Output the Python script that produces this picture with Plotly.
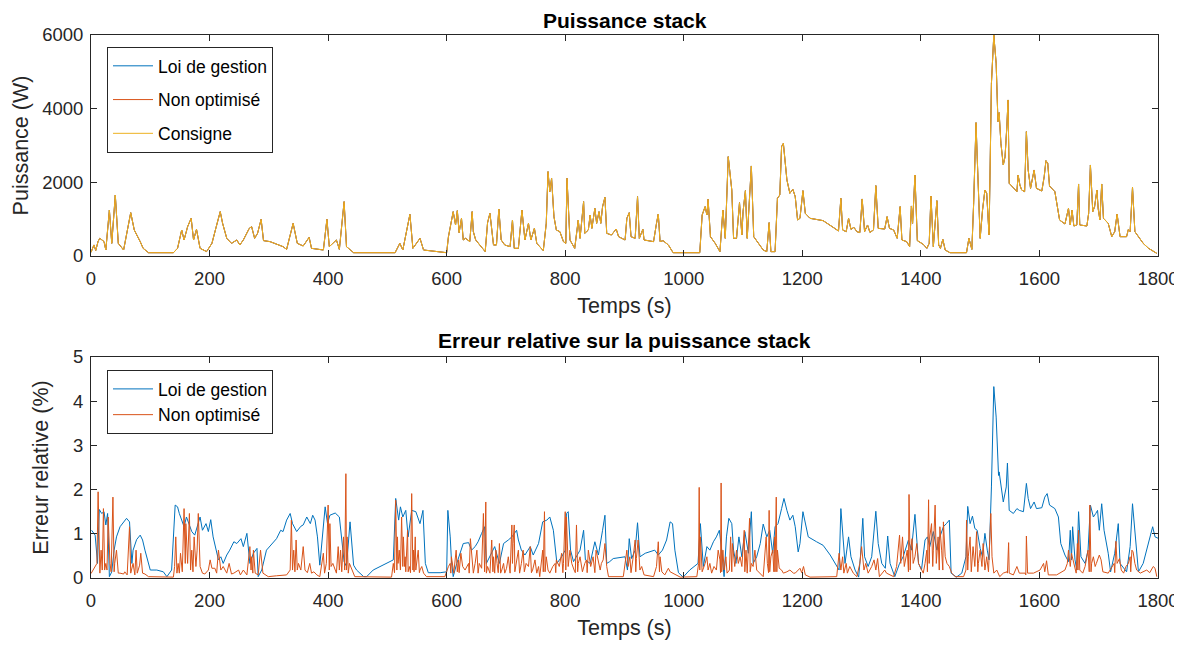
import plotly.graph_objects as go
from plotly.subplots import make_subplots

# --- Puissance stack (W) ---
t_power = [0, 5, 8, 12, 15, 22, 25, 31, 35, 41, 46, 55, 67, 73, 83, 88, 97, 139, 146, 153, 157, 163, 169, 173,
           178, 184, 195, 204, 211, 218, 222, 229, 237, 246, 251, 257, 267, 271, 276, 281, 287, 291, 302, 324,
           330, 341, 348, 358, 368, 372, 392, 398, 402, 414, 419, 427, 431, 443, 513, 521, 526, 538, 543, 555,
           561, 594, 600, 603, 611, 615, 618, 621, 625, 628, 632, 639, 643, 645, 649, 665, 669, 673, 679, 684,
           688, 692, 698, 707, 711, 714, 721, 727, 732, 738, 742, 748, 752, 763, 768, 771, 774, 777, 781, 785,
           791, 797, 801, 803, 808, 816, 822, 825, 831, 833, 839, 842, 845, 850, 853, 857, 860, 863, 867, 870,
           878, 886, 890, 901, 904, 908, 911, 918, 922, 925, 931, 933, 949, 954, 957, 960, 965, 974, 982, 1027,
           1031, 1036, 1039, 1041, 1045, 1053, 1061, 1066, 1070, 1075, 1081, 1084, 1089, 1094, 1098, 1100, 1104,
           1107, 1114, 1118, 1126, 1134, 1140, 1144, 1147, 1154, 1158, 1162, 1165, 1168, 1174, 1179, 1184, 1188,
           1192, 1196, 1201, 1205, 1213, 1235, 1252, 1261, 1265, 1268, 1274, 1278, 1282, 1287, 1292, 1297, 1301,
           1305, 1310, 1314, 1320, 1324, 1328, 1339, 1343, 1347, 1354, 1360, 1365, 1368, 1376, 1381, 1384, 1386,
           1390, 1394, 1404, 1410, 1414, 1417, 1421, 1427, 1430, 1433, 1437, 1441, 1449, 1477, 1481, 1486, 1489,
           1493, 1495, 1500, 1504, 1508, 1511, 1515, 1519, 1523, 1527, 1530, 1532, 1535, 1539, 1542, 1545, 1547,
           1549, 1556, 1562, 1564, 1567, 1570, 1575, 1578, 1581, 1585, 1591, 1595, 1604, 1608, 1611, 1614, 1617,
           1626, 1634, 1643, 1649, 1652, 1655, 1658, 1663, 1666, 1668, 1680, 1683, 1686, 1690, 1693, 1697, 1699,
           1702, 1705, 1708, 1716, 1722, 1727, 1731, 1736, 1747, 1750, 1753, 1757, 1761, 1775, 1784, 1798]
p_consigne = [100, 300, 150, 400, 480, 390, 163, 1249, 344, 1656, 344, 163, 1177, 706, 390, 208, 90, 90, 208, 706,
              435, 796, 1023, 435, 724, 208, 120, 344, 778, 1204, 887, 480, 344, 435, 299, 435, 751, 796, 480, 616,
              996, 417, 390, 254, 180, 887, 344, 272, 507, 208, 163, 996, 254, 435, 180, 1475, 254, 90, 90, 344,
              163, 1131, 208, 480, 163, 90, 90, 525, 1204, 842, 1231, 634, 1023, 435, 480, 390, 1204, 661, 435,
              118, 905, 1158, 299, 299, 1276, 435, 299, 254, 977, 208, 208, 1249, 435, 887, 435, 751, 344, 145,
              887, 2290, 1747, 2109, 1068, 706, 661, 390, 344, 2109, 435, 208, 977, 480, 1475, 616, 706, 1113, 751,
              1294, 887, 1204, 887, 1340, 1593, 616, 570, 733, 525, 435, 1023, 1177, 525, 480, 1611, 480, 724, 435,
              390, 887, 1140, 390, 417, 299, 90, 90, 1113, 1340, 1113, 1539, 525, 344, 118, 1249, 480, 2697, 1792,
              480, 480, 1448, 570, 1204, 1774, 480, 2444, 525, 344, 163, 118, 905, 118, 118, 1566, 1656, 2969, 3059,
              2064, 1702, 1810, 1611, 977, 1023, 1774, 1158, 1023, 960, 778, 679, 1566, 706, 661, 1023, 724, 778,
              661, 634, 1548, 661, 842, 643, 706, 1910, 751, 733, 1068, 751, 706, 480, 1340, 435, 390, 254, 1358,
              887, 2199, 417, 317, 208, 344, 1629, 254, 1502, 299, 208, 453, 163, 90, 90, 480, 180, 1430, 3620,
              2697, 480, 1249, 1792, 1702, 570, 4688, 6000, 5231, 3648, 3892, 3059, 2471, 2697, 3512, 4236, 1973,
              1837, 1747, 2199, 1928, 1792, 1747, 3376, 2335, 1837, 2335, 1837, 1765, 2154, 2589, 2516, 1901, 1747,
              977, 869, 1294, 842, 1249, 815, 842, 1955, 842, 815, 1158, 2471, 1204, 1340, 1792, 1294, 977, 1955,
              1023, 887, 525, 661, 1140, 525, 525, 724, 661, 1865, 661, 344, 208, 72]
# the three power curves track the setpoint and overlap in the reference
p_loi = p_consigne
p_non_opt = p_consigne

# --- Erreur relative (%) : loi de gestion ---
t_err_loi = [1, 7, 11, 14, 18, 22, 25, 28, 31, 35, 39, 43, 49, 55, 60, 65, 69, 71, 77, 83, 87, 91, 97, 100, 111,
             122, 128, 136, 142, 146, 149, 153, 157, 161, 165, 170, 175, 179, 184, 188, 194, 198, 202, 206, 211,
             215, 219, 223, 229, 234, 241, 246, 253, 257, 263, 268, 274, 280, 282, 288, 296, 305, 313, 320, 324,
             330, 336, 340, 347, 354, 358, 364, 370, 374, 378, 382, 386, 395, 399, 403, 412, 419, 423, 427, 431,
             437, 443, 448, 460, 465, 476, 493, 510, 514, 519, 522, 526, 531, 535, 541, 548, 555, 560, 564, 569,
             589, 600, 602, 606, 608, 611, 617, 622, 628, 637, 642, 648, 653, 659, 664, 667, 676, 681, 689, 696,
             704, 710, 718, 721, 726, 732, 741, 746, 755, 762, 769, 774, 780, 786, 794, 800, 802, 805, 809, 814,
             825, 831, 834, 842, 850, 856, 863, 867, 870, 875, 881, 892, 901, 905, 908, 912, 918, 922, 926, 935,
             943, 951, 957, 964, 971, 977, 981, 985, 991, 999, 1010, 1024, 1028, 1033, 1039, 1044, 1050, 1055,
             1060, 1064, 1068, 1072, 1076, 1081, 1084, 1088, 1093, 1098, 1103, 1109, 1114, 1117, 1123, 1129, 1134,
             1140, 1145, 1150, 1154, 1159, 1165, 1169, 1174, 1179, 1184, 1188, 1193, 1196, 1201, 1205, 1210, 1224,
             1235, 1247, 1258, 1262, 1265, 1268, 1272, 1278, 1282, 1289, 1295, 1298, 1302, 1305, 1311, 1317, 1321,
             1324, 1328, 1334, 1340, 1344, 1348, 1356, 1364, 1370, 1379, 1384, 1390, 1396, 1401, 1407, 1411, 1415,
             1421, 1427, 1432, 1438, 1443, 1448, 1451, 1460, 1469, 1476, 1479, 1483, 1487, 1491, 1495, 1500, 1504,
             1508, 1512, 1515, 1519, 1523, 1527, 1529, 1531, 1532, 1535, 1539, 1544, 1546, 1549, 1556, 1562, 1566,
             1573, 1578, 1581, 1585, 1591, 1595, 1604, 1609, 1613, 1617, 1626, 1632, 1636, 1643, 1649, 1652, 1654,
             1656, 1660, 1663, 1666, 1670, 1677, 1682, 1686, 1691, 1695, 1698, 1701, 1705, 1709, 1716, 1720, 1727,
             1733, 1736, 1747, 1753, 1757, 1761, 1767, 1775, 1784, 1791, 1795, 1800]
e_loi = [1.08, 0.97, 0.33, 1.55, 1.46, 1.50, 1.20, 1.46, 0.03, 0.14, 0.63, 0.93, 1.16, 1.27, 1.35, 1.27, 0.33, 0.63,
         0.87, 0.97, 0.86, 0.63, 0.33, 0.18, 0.18, 0.14, 0.03, 0.18, 1.65, 1.61, 1.46, 1.31, 1.16, 1.38, 1.23, 1.05,
         0.97, 1.16, 1.38, 1.08, 1.23, 1.05, 1.32, 0.93, 0.63, 0.41, 0.48, 0.33, 0.52, 0.63, 0.82, 0.78, 0.89, 0.71,
         1.01, 0.33, 0.56, 0.67, 0.03, 0.18, 0.63, 0.78, 0.89, 1.08, 1.05, 1.31, 1.46, 1.23, 1.05, 1.17, 1.20, 1.38,
         1.23, 1.42, 1.31, 0.93, 0.29, 1.61, 1.23, 1.42, 1.47, 1.38, 0.89, 0.37, 0.26, 1.27, 0.29, 0.18, 0.03, 0.03,
         0.18, 0.29, 0.41, 1.80, 1.31, 1.61, 1.38, 1.53, 0.93, 1.53, 1.50, 1.23, 1.53, 0.33, 0.12,
         0.12, 0.14, 1.53, 0.93, 0.41, 0.03, 0.33, 0.56, 0.78, 0.80, 0.63, 0.71, 0.82, 1.01, 1.16, 0.33, 0.56, 0.71,
         0.33, 0.78, 0.86, 0.93, 1.08, 0.86, 0.63, 0.52, 0.71, 0.52, 0.78, 1.27, 1.31, 1.38, 1.08, 0.33, 0.48, 0.63,
         1.46, 1.50, 0.63, 0.37, 0.63, 1.08, 0.41, 0.33, 0.82, 0.52, 1.08, 1.42, 0.33, 0.37, 0.44, 0.47, 0.48, 0.18,
         0.89, 0.44, 0.63, 1.25, 0.48, 0.56, 0.59, 0.63, 0.52, 0.63, 0.86, 1.27, 1.23, 0.63, 0.12, 0.02, 0.18, 0.33,
         1.23, 0.26, 0.71, 0.63, 0.82, 0.93, 1.08, 0.63, 0.03, 0.93, 1.35, 1.23, 0.63, 0.33, 0.93, 0.48, 1.05, 0.56,
         1.50, 0.33, 0.48, 0.78, 1.22, 0.93, 1.08, 0.56, 1.16, 1.23, 1.57, 1.80, 1.53,
         1.31, 1.42, 1.16, 0.59, 0.78, 1.50, 1.23, 0.93, 0.82, 0.74, 0.52, 0.26, 0.18, 1.57, 0.93, 0.33, 0.93, 0.48,
         0.18, 0.02, 0.48, 1.35, 0.48, 0.26, 0.48, 1.16, 1.51, 0.78, 0.33, 0.22, 0.95, 0.33, 0.03, 0.33, 0.48, 0.86,
         0.63, 1.44, 0.33, 0.18, 0.86, 0.93, 0.71, 1.05, 0.63, 0.93, 1.16, 1.23, 1.31, 0.11, 0.02, 0.11, 0.48, 1.62,
         1.23, 1.40, 1.12, 1.08, 0.67, 0.48, 1.01, 0.63, 0.41, 2.06, 4.33, 3.64, 2.89, 2.32, 2.40, 2.06, 1.72, 2.06,
         2.60, 1.53, 1.46, 1.57, 1.53, 1.50, 2.14, 1.80, 1.57, 1.72, 1.57, 1.59, 1.83, 1.91, 1.65, 1.57, 1.38, 0.78,
         0.52, 0.37, 1.08, 0.41, 1.16, 0.41, 0.18, 1.50, 0.48, 0.33, 0.63, 1.65, 1.38, 1.46, 1.53, 1.08, 1.68, 1.08,
         0.56, 0.14, 0.56, 1.23, 0.33, 0.14, 0.71, 1.68, 1.08, 0.14, 0.33, 0.78, 1.16, 0.93, 0.90]

# --- Erreur relative (%) : non optimise ---
t_err_non_opt = [0, 10, 12, 15, 17, 19, 21, 23, 25, 27, 29, 32, 34, 37, 39, 40, 43, 46, 49, 55, 57, 61, 65, 67, 71,
                 74, 76, 78, 82, 84, 87, 91, 97, 139, 141, 143, 145, 147, 149, 151, 154, 157, 159, 160, 163, 166,
                 168, 170, 172, 174, 177, 179, 181, 184, 188, 192, 198, 201, 204, 209, 212, 215, 219, 223, 229, 233,
                 237, 241, 249, 252, 257, 263, 268, 270, 271, 273, 274, 277, 282, 286, 290, 299, 313, 330, 336, 338,
                 340, 342, 344, 346, 348, 350, 354, 358, 361, 365, 369, 372, 376, 381, 386, 392, 394, 397, 400, 402,
                 403, 405, 408, 412, 414, 417, 419, 421, 423, 426, 428, 430, 431, 432, 434, 436, 440, 445, 507, 510,
                 512, 514, 516, 517, 518, 520, 522, 524, 526, 527, 529, 530, 531, 534, 535, 537, 539, 541, 543, 544,
                 545, 547, 548, 549, 552, 554, 555, 558, 561, 566, 597,
                 603, 606, 607, 608, 612, 616, 618, 620, 621, 624, 627, 631, 637, 638, 640, 643, 645, 648, 651, 653,
                 655, 659, 662, 664, 666, 667, 669, 673, 676, 678, 679, 681, 683, 685, 687, 689, 691, 693, 696, 698,
                 701, 704, 707, 710, 711, 712, 714, 715, 717, 721, 723, 724, 726, 729, 731, 734, 738, 741, 743, 745,
                 749, 752, 755, 757, 762, 763, 765, 766, 768, 771, 774, 779, 783, 784, 785, 790, 794, 796, 797, 800,
                 801, 802, 805, 808, 811, 815, 817, 819, 821, 822, 825, 829, 833, 836, 837, 839, 843, 847, 850, 852,
                 856, 859, 861, 864, 867, 870, 873, 898, 904, 906, 909, 911, 914, 918, 919, 920, 923, 926, 929, 933,
                 949, 954, 957, 959, 960, 963, 968, 974, 977, 982, 994, 1022, 1025, 1026, 1027, 1028, 1031, 1036,
                 1039, 1041, 1044, 1047, 1051, 1055, 1058, 1061, 1062, 1063, 1064, 1066, 1068, 1071, 1073, 1077,
                 1079, 1081, 1082, 1086, 1089, 1092, 1095, 1098, 1102, 1103, 1105, 1107, 1111, 1112, 1114, 1117,
                 1120, 1123, 1129, 1134, 1139, 1141, 1143, 1144, 1145, 1147, 1150, 1152, 1153, 1154, 1156, 1157,
                 1158, 1161, 1165, 1168, 1174, 1179, 1185,
                 1188, 1196, 1199, 1202, 1205, 1213, 1258, 1262, 1265, 1268, 1270, 1274, 1276, 1280, 1286, 1292,
                 1297, 1300, 1302, 1304, 1307, 1311, 1317, 1321, 1324, 1327, 1330, 1339, 1342, 1354, 1359, 1364,
                 1366, 1369, 1372, 1375, 1377, 1379, 1380, 1382, 1383, 1385, 1387, 1390, 1393, 1396, 1399, 1404,
                 1407, 1410, 1411, 1413, 1414, 1415, 1418, 1420, 1421, 1424, 1426, 1427, 1429, 1431, 1432, 1435,
                 1437, 1438, 1441, 1444, 1448, 1452, 1458, 1472, 1476, 1477, 1479, 1480, 1483, 1485, 1486, 1488,
                 1491, 1494, 1496, 1497, 1500, 1503, 1505, 1508, 1511, 1514, 1518, 1520, 1523, 1528, 1533, 1539,
                 1545, 1546, 1548, 1549, 1556, 1562, 1566, 1576, 1577, 1578, 1580, 1590, 1601, 1607, 1609, 1612,
                 1615, 1629, 1643, 1647, 1649, 1652, 1654, 1658, 1662, 1664, 1665, 1666, 1668, 1673, 1677, 1680,
                 1682, 1684, 1685, 1687, 1688, 1691, 1694, 1696, 1701, 1704, 1707, 1716, 1722, 1726, 1727, 1729,
                 1731, 1735, 1738, 1742, 1746, 1750, 1753, 1754, 1756, 1758, 1761, 1764, 1770, 1775, 1781, 1786,
                 1792, 1795, 1798]
e_non_opt = [0.10, 0.33, 1.95, 0.11, 0.63, 0.18, 1.57, 0.18, 0.33, 0.18, 1.38, 0.33, 0.14, 1.83, 0.14, 0.33, 0.63,
             0.11, 0.11, 0.09, 0.14, 0.07, 1.16, 0.11, 0.33, 0.07, 0.63, 0.11, 0.29, 0.56, 0.11, 0.09, 0.03, 0.02,
             0.26, 0.93, 0.11, 0.33, 0.11, 0.56, 0.14, 1.57, 0.33, 1.23, 0.33, 1.46, 0.18, 0.63, 0.14, 0.93, 0.26,
             0.63, 1.46, 0.26, 0.11, 0.09, 0.18, 0.41, 0.22, 0.22, 0.11, 0.63, 0.18, 0.26, 0.11, 0.33, 0.09, 0.11,
             0.18, 0.07, 0.18, 0.07, 0.71, 0.18, 0.48, 0.11, 0.63, 0.11, 0.07, 0.63, 0.11, 0.03, 0.05, 0.07, 0.18,
             1.31, 0.18, 0.63, 0.14, 0.86, 0.18, 0.33, 0.18, 0.71, 0.18, 0.12, 0.33, 0.11, 0.14, 0.07, 0.03, 0.56,
             0.11, 0.33, 1.65, 0.18, 1.23, 0.26, 0.33, 0.18, 0.11, 0.71, 0.18, 0.63, 0.14, 0.93, 0.18, 2.36, 0.18,
             0.93, 0.11, 0.33, 0.18, 0.03, 0.02, 0.33, 0.12, 1.76, 0.18, 0.93, 0.33, 0.63, 0.18, 1.38, 0.26, 0.93,
             0.26, 0.48, 0.14, 1.08, 0.14, 0.26, 0.12, 1.91, 0.18, 0.63, 0.14, 0.93, 0.18, 0.33, 0.63, 0.12, 0.18,
             0.26, 0.11, 0.03, 0.03,
             0.26, 0.33, 0.11, 0.48, 0.11, 0.63, 0.14, 0.41, 0.12, 0.56, 0.26, 0.18, 0.33, 0.11, 0.89, 0.48, 0.11,
             0.33, 0.63, 0.11, 0.33, 0.22, 1.46, 0.14, 1.72, 0.11, 0.26, 0.11, 0.86, 0.14, 0.48, 0.11, 0.63, 0.33,
             0.12, 0.78, 0.11, 0.18, 0.33, 0.11, 0.22, 0.48, 0.11, 1.20, 0.33, 0.78, 1.20, 0.14, 0.33, 0.63, 0.11,
             0.22, 0.33, 0.63, 0.14, 0.33, 0.26, 0.71, 0.12, 0.18, 0.41, 0.11, 0.26, 0.03, 0.63, 0.14, 1.50, 0.14,
             0.48, 0.18, 0.11, 0.26, 0.33, 0.12, 0.41, 0.26, 0.56, 0.12, 0.33, 1.50, 0.18, 1.38, 0.26, 0.63, 0.33,
             0.18, 0.12, 1.20, 0.14, 0.33, 0.48, 0.14, 0.33, 0.41, 0.12, 0.63, 0.26, 0.48, 0.12, 0.63, 0.33, 0.18,
             0.33, 0.41, 0.78, 0.26, 0.03, 0.03, 0.63, 0.26, 0.48, 0.12, 0.41, 0.86, 0.14, 0.44, 0.86, 0.18, 0.26,
             0.07, 0.03, 0.26, 0.82, 0.14, 0.48, 0.14, 0.07, 0.22, 0.14, 0.11, 0.02, 0.03, 0.33, 2.05, 0.18, 0.93,
             0.14, 0.33, 0.48, 0.18, 0.33, 0.11, 0.26, 0.18, 0.63, 0.41, 0.12, 2.15, 0.14, 0.63, 0.18, 0.48, 0.11,
             0.18, 0.93, 0.14, 0.78, 0.26, 0.63, 0.33, 0.48, 0.26, 1.08, 0.14, 0.63, 0.11, 1.35, 0.14, 0.33, 0.26,
             0.63, 0.18, 0.11, 0.03, 0.93, 0.33, 0.12, 1.53, 0.14, 0.48, 0.63, 0.14, 0.93, 0.14, 1.83, 0.14, 0.63,
             0.22, 0.18, 0.11, 0.14, 0.18, 0.11,
             0.11, 0.22, 0.12, 0.26, 0.07, 0.02, 0.03, 0.56, 0.18, 0.48, 0.11, 0.33, 0.11, 0.26, 0.11, 0.03, 0.33,
             0.71, 0.48, 0.18, 0.33, 0.11, 0.26, 0.41, 0.18, 0.44, 0.03, 0.18, 0.11, 0.03, 0.26, 0.97, 0.33, 0.93,
             0.26, 0.48, 0.63, 0.14, 1.89, 0.18, 0.63, 0.89, 0.33, 0.48, 0.78, 0.33, 0.26, 0.11, 0.33, 0.63, 0.14,
             1.77, 0.33, 0.93, 1.23, 0.26, 0.63, 1.65, 0.33, 0.63, 0.93, 0.18, 1.16, 0.63, 0.18, 1.27, 0.48, 0.33,
             0.26, 0.11, 0.03, 0.03, 0.18, 1.31, 0.18, 0.48, 0.93, 0.14, 0.44, 0.71, 0.26, 1.05, 0.14, 0.33, 0.63,
             0.26, 0.78, 0.18, 0.48, 0.14, 1.46, 0.48, 0.11, 0.18, 0.03, 0.11, 0.14, 0.11, 0.80, 0.11, 0.07, 0.26,
             0.11, 0.11, 0.07, 0.95, 0.11, 0.11, 0.18, 0.33, 0.14, 0.39, 0.07, 0.07, 0.18, 0.33, 0.63, 0.26, 0.56,
             0.33, 0.11, 0.78, 0.18, 1.08, 0.18, 0.11, 0.26, 0.48, 0.63, 0.14, 1.65, 0.14, 0.33, 0.48, 0.26, 0.33,
             0.52, 0.41, 0.14, 0.11, 0.26, 0.33, 0.12, 0.83, 0.33, 0.44, 0.18, 0.11, 0.26, 0.33, 0.48, 0.14, 0.63,
             0.59, 0.33, 0.18, 0.11, 0.14, 0.18, 0.12, 0.26, 0.22, 0.03]

BLUE = "#0072BD"
ORANGE = "#D95319"
YELLOW = "#EDB120"
AXIS = "#262626"
FONT = "Liberation Sans, Arial, sans-serif"

fig = make_subplots(rows=2, cols=1, vertical_spacing=0.186)

fig.add_trace(go.Scatter(x=t_power, y=p_loi, name="Loi de gestion", mode="lines",
                         line=dict(color=BLUE, width=1), legend="legend", legendgroup="a"), row=1, col=1)
fig.add_trace(go.Scatter(x=t_power, y=p_non_opt, name="Non optimisé", mode="lines",
                         line=dict(color=ORANGE, width=1), legend="legend", legendgroup="b"), row=1, col=1)
fig.add_trace(go.Scatter(x=t_power, y=p_consigne, name="Consigne", mode="lines",
                         line=dict(color=YELLOW, width=1), legend="legend", legendgroup="c"), row=1, col=1)

fig.add_trace(go.Scatter(x=t_err_loi, y=e_loi, name="Loi de gestion", mode="lines",
                         line=dict(color=BLUE, width=1), legend="legend2"), row=2, col=1)
fig.add_trace(go.Scatter(x=t_err_non_opt, y=e_non_opt, name="Non optimisé", mode="lines",
                         line=dict(color=ORANGE, width=1), legend="legend2"), row=2, col=1)

axis_style = dict(showline=True, linecolor=AXIS, linewidth=1, mirror="ticks", ticks="inside",
                  ticklen=6, tickcolor=AXIS, showgrid=False, zeroline=False, automargin=False,
                  tickfont=dict(size=18.5, color=AXIS), title_font=dict(size=21.5, color=AXIS))

fig.update_xaxes(range=[0, 1800], tickvals=list(range(0, 1801, 200)), title_text="Temps (s)",
                 ticklabelstandoff=6, title_standoff=9, **axis_style)
fig.update_yaxes(ticklabelstandoff=3, **axis_style)
fig.update_yaxes(range=[0, 6000], tickvals=[0, 2000, 4000, 6000], title_text="Puissance (W)",
                 title_standoff=7, row=1, col=1)
fig.update_yaxes(range=[0, 5], tickvals=[0, 1, 2, 3, 4, 5], title_text="Erreur relative (%)",
                 title_standoff=18, row=2, col=1)

# the page body adds an 8 px offset, so the margins are shifted to keep the axes in place
legend_style = dict(bgcolor="white", bordercolor=AXIS, borderwidth=1, font=dict(size=17.5, color="black"),
                    xanchor="left", yanchor="top", itemwidth=40)
fig.update_layout(
    width=1182, height=645,
    margin=dict(l=83, r=32, t=27, b=75),
    paper_bgcolor="white", plot_bgcolor="white",
    font=dict(family=FONT, color=AXIS),
    legend=dict(x=0.015, y=0.978, tracegroupgap=8, **legend_style),
    legend2=dict(x=0.015, y=0.383, **legend_style),
    annotations=[
        dict(text="<b>Puissance stack</b>", xref="paper", yref="paper", x=0.5, y=1.0, yshift=1,
             xanchor="center", yanchor="bottom", showarrow=False, font=dict(size=21, color="black")),
        dict(text="<b>Erreur relative sur la puissance stack</b>", xref="paper", yref="paper", x=0.5,
             y=0.407, yshift=3, xanchor="center", yanchor="bottom", showarrow=False,
             font=dict(size=21, color="black")),
    ],
)

fig.write_html("out.html")
